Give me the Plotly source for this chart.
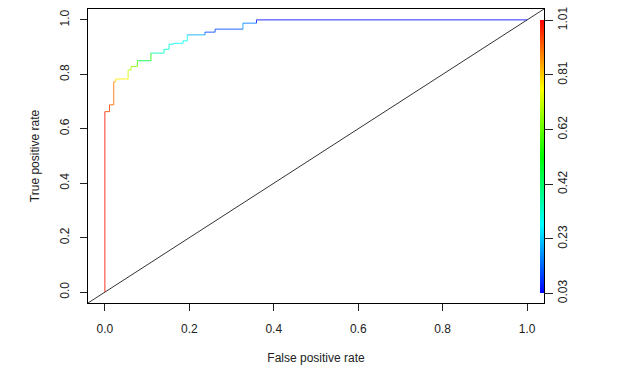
import plotly.graph_objects as go
from plotly.colors import sample_colorscale

# ROC curve vertices (false positive rate, true positive rate) and cutoff for each segment end
fpr = [0.0, 0.0, 0.011, 0.011, 0.021, 0.021, 0.026, 0.026, 0.055, 0.055, 0.062, 0.062,
       0.077, 0.077, 0.109, 0.109, 0.140, 0.140, 0.152, 0.152, 0.163, 0.163, 0.185, 0.185,
       0.195, 0.195, 0.237, 0.237, 0.261, 0.261, 0.327, 0.327, 0.359, 0.359, 1.0]
tpr = [0.0, 0.663, 0.663, 0.688, 0.688, 0.773, 0.773, 0.783, 0.783, 0.816, 0.816, 0.829,
       0.829, 0.850, 0.850, 0.878, 0.878, 0.892, 0.892, 0.911, 0.911, 0.914, 0.914, 0.923,
       0.923, 0.945, 0.945, 0.955, 0.955, 0.966, 0.966, 0.988, 0.988, 1.0, 1.0]
cutoff = [1.01, 0.99, 0.95, 0.94, 0.92, 0.90, 0.84, 0.80, 0.78, 0.72, 0.70, 0.68,
          0.66, 0.60, 0.45, 0.55, 0.34, 0.33, 0.32, 0.31, 0.30, 0.30, 0.28, 0.27,
          0.30, 0.28, 0.20, 0.14, 0.10, 0.10, 0.10, 0.18, 0.15, 0.06, 0.04]

axis_ticks = [0.0, 0.2, 0.4, 0.6, 0.8, 1.0]
axis_range = [-0.04, 1.04]
cb_min, cb_max = 0.03, 1.01
cb_tickvals = [0.03, 0.226, 0.422, 0.618, 0.814, 1.01]
cb_ticktext = ["0.03", "0.23", "0.42", "0.62", "0.81", "1.01"]

rainbow = [[0.0, "#0000FF"], [0.25, "#00FFFF"], [0.5, "#00FF00"], [0.75, "#FFFF00"], [1.0, "#FF0000"]]

FONT = "Liberation Sans, Arial, sans-serif"
TXT = "#222222"

fig = go.Figure()

# diagonal reference line (abline a=0, b=1)
fig.add_trace(go.Scatter(x=axis_range, y=axis_range, mode="lines",
                         line=dict(color="#333333", width=1),
                         showlegend=False, hoverinfo="skip"))

# colorized ROC segments
for i in range(1, len(fpr)):
    t = (cutoff[i] - cb_min) / (cb_max - cb_min)
    t = min(max(t, 0.0), 1.0)
    col = sample_colorscale(rainbow, [t])[0]
    fig.add_trace(go.Scatter(x=[fpr[i - 1], fpr[i]], y=[tpr[i - 1], tpr[i]], mode="lines",
                             line=dict(color=col, width=1), opacity=0.85,
                             showlegend=False, hoverinfo="skip"))

# colour bar
fig.add_trace(go.Scatter(
    x=[None], y=[None], mode="markers", showlegend=False, hoverinfo="skip",
    marker=dict(color=[cb_min], colorscale=rainbow, cmin=cb_min, cmax=cb_max, showscale=True,
                colorbar=dict(thickness=4, thicknessmode="pixels", len=0.927, lenmode="fraction",
                              y=0.497, yanchor="middle", x=0.991, xanchor="left", xpad=0, ypad=0,
                              outlinewidth=0, borderwidth=0,
                              tickmode="array", tickvals=cb_tickvals, ticktext=cb_ticktext,
                              ticks="outside", ticklen=9, tickcolor="#222222", tickwidth=1,
                              tickangle=-90,
                              tickfont=dict(family=FONT, size=12, color=TXT)))))

fig.update_xaxes(range=axis_range, tickvals=axis_ticks, tickformat=".1f",
                 showgrid=False, zeroline=False, showline=True, mirror=True,
                 linecolor="#000000", linewidth=1, ticks="outside", ticklen=7,
                 tickcolor="#222222", ticklabelstandoff=8, automargin=False,
                 tickfont=dict(family=FONT, size=12, color=TXT),
                 title=dict(text="False positive rate", standoff=18,
                            font=dict(family=FONT, size=12, color=TXT)))
fig.update_yaxes(range=axis_range, tickvals=axis_ticks, tickformat=".1f",
                 showgrid=False, zeroline=False, showline=True, mirror=True,
                 linecolor="#000000", linewidth=1, ticks="outside", ticklen=7,
                 tickcolor="#222222", tickangle=-90, ticklabelstandoff=6, automargin=False,
                 tickfont=dict(family=FONT, size=12, color=TXT),
                 title=dict(text="True positive rate", standoff=16,
                            font=dict(family=FONT, size=12, color=TXT)))

fig.update_layout(width=618, height=370, margin=dict(l=88, r=74, t=9, b=67),
                  paper_bgcolor="white", plot_bgcolor="white", showlegend=False)

# remove the default 8px page margin so the figure sits at the window's top-left corner
fig.write_html("out.html", config={"displayModeBar": False},
               post_script="document.body.style.margin='0';")
